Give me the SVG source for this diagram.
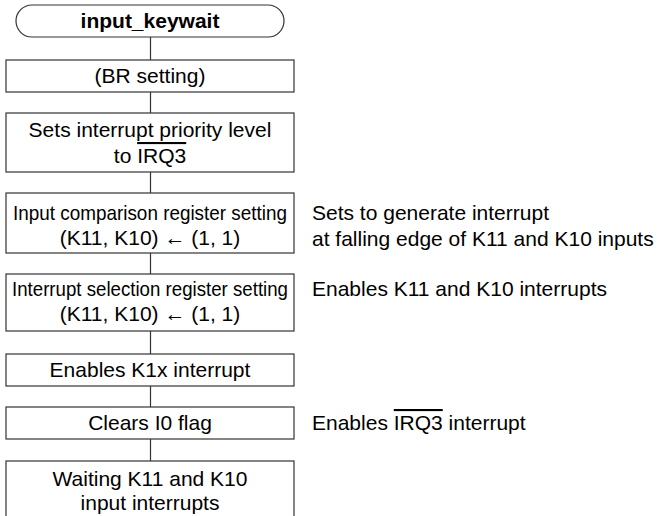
<svg xmlns="http://www.w3.org/2000/svg" width="662" height="516" viewBox="0 0 662 516">
<style>
.b{fill:#fff;stroke:#333;stroke-width:1.2}
.t{font-family:"Liberation Sans",Arial,sans-serif;font-size:21px;fill:#000;text-anchor:middle}
.a{font-family:"Liberation Sans",Arial,sans-serif;font-size:21px;fill:#000}
.c{stroke:#333;stroke-width:1.2;fill:none}
.ov{text-decoration:overline}
</style>
<rect width="662" height="516" fill="#fff"/>
<g id="connectors">
<path class="c" d="M150.5 37V60M150.5 92V113M150.5 172V193M150.5 253V274M150.5 331V354M150.5 386V407M150.5 439V461"/>
</g>
<g id="start">
<rect class="b" x="16" y="5" width="268" height="32" rx="16"/>
<text class="t" x="150" y="28" font-weight="bold">input_keywait</text>
</g>
<g id="br">
<rect class="b" x="6" y="60" width="288" height="32"/>
<text class="t" x="150" y="83">(BR setting)</text>
</g>
<g id="priority">
<rect class="b" x="6" y="113" width="288" height="59"/>
<text class="t" x="150" y="137">Sets interrupt priority level</text>
<text class="t" x="150" y="163">to <tspan class="ov">IRQ3</tspan></text>
</g>
<g id="compare">
<rect class="b" x="6" y="193" width="288" height="60"/>
<text class="t" x="150" y="220" textLength="274" lengthAdjust="spacingAndGlyphs">Input comparison register setting</text>
<text class="t" x="150" y="245">(K11, K10) ← (1, 1)</text>
<text class="a" x="312" y="220">Sets to generate interrupt</text>
<text class="a" x="312" y="246">at falling edge of K11 and K10 inputs</text>
</g>
<g id="select">
<rect class="b" x="6" y="274" width="288" height="57"/>
<text class="t" x="150" y="296" textLength="276" lengthAdjust="spacingAndGlyphs">Interrupt selection register setting</text>
<text class="t" x="150" y="321">(K11, K10) ← (1, 1)</text>
<text class="a" x="312" y="296">Enables K11 and K10 interrupts</text>
</g>
<g id="enable">
<rect class="b" x="6" y="354" width="288" height="32"/>
<text class="t" x="150" y="377">Enables K1x interrupt</text>
</g>
<g id="clear">
<rect class="b" x="6" y="407" width="288" height="32"/>
<text class="t" x="150" y="430">Clears I0 flag</text>
<text class="a" x="312" y="430">Enables <tspan class="ov">IRQ3</tspan> interrupt</text>
</g>
<g id="wait">
<rect class="b" x="6" y="461" width="288" height="60"/>
<text class="t" x="150" y="486">Waiting K11 and K10</text>
<text class="t" x="150" y="510">input interrupts</text>
</g>
</svg>
